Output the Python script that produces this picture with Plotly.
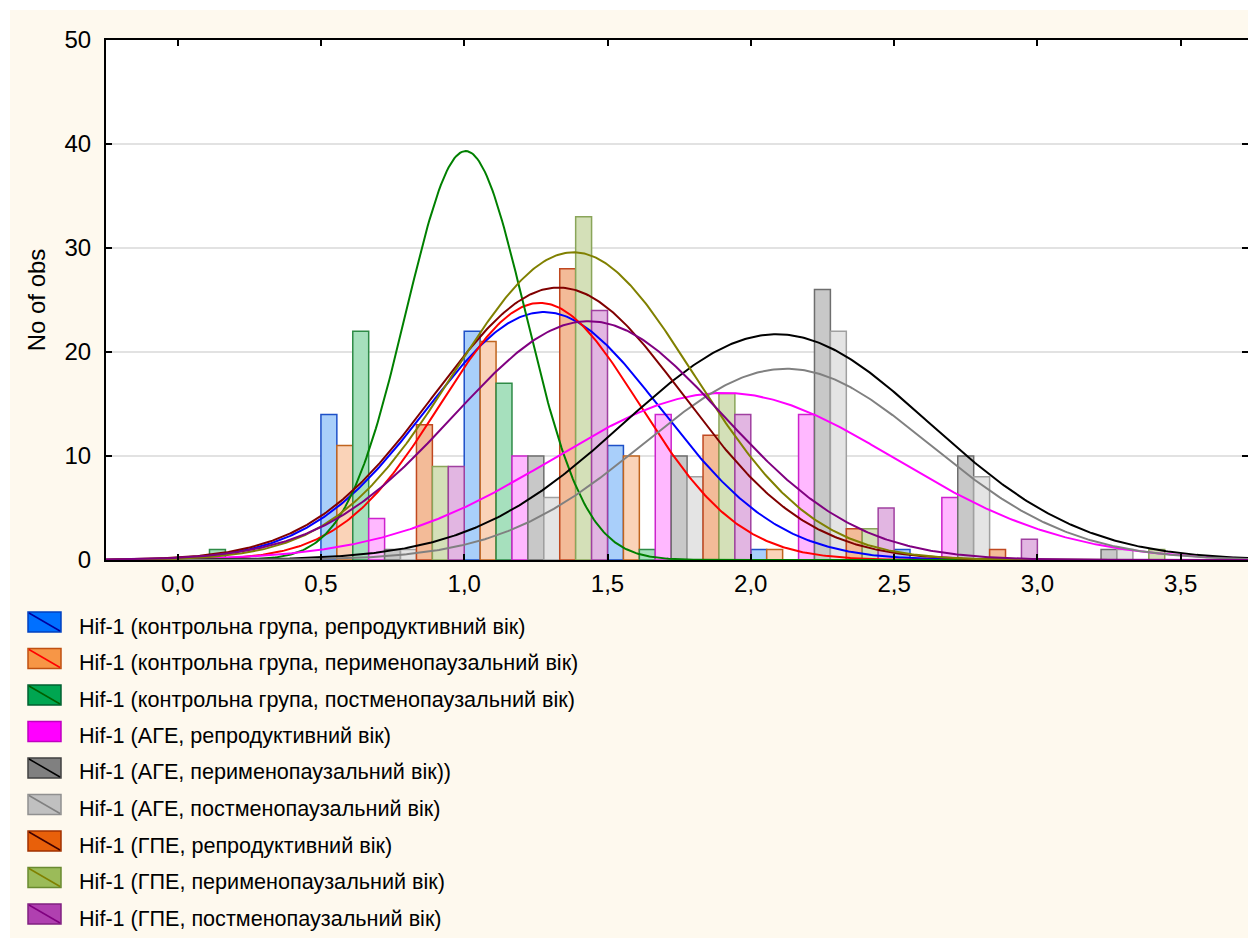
import numpy as np
import plotly.graph_objects as go

# Histogram bins (width 0.5), left edges
bin_starts = [0.0, 0.5, 1.0, 1.5, 2.0, 2.5, 3.0, 3.5]
bin_width = 0.5

series_names = [
    "Hif-1 (контрольна група, репродуктивний вік)",
    "Hif-1 (контрольна група, перименопаузальний вік)",
    "Hif-1 (контрольна група, постменопаузальний вік)",
    "Hif-1 (АГЕ, репродуктивний вік)",
    "Hif-1 (АГЕ, перименопаузальний вік))",
    "Hif-1 (АГЕ, постменопаузальний вік)",
    "Hif-1 (ГПЕ, репродуктивний вік)",
    "Hif-1 (ГПЕ, перименопаузальний вік)",
    "Hif-1 (ГПЕ, постменопаузальний вік)",
]

# Observation counts per bin for each group
counts_ctrl_repr = [0, 14, 22, 11, 1, 1, 0, 0]
counts_ctrl_peri = [0, 11, 21, 10, 1, 0, 0, 0]
counts_ctrl_post = [1, 22, 17, 1, 0, 0, 0, 0]
counts_age_repr = [0, 4, 10, 14, 14, 6, 0, 0]
counts_age_peri = [0, 1, 10, 10, 26, 10, 1, 0]
counts_age_post = [0, 1, 6, 8, 22, 8, 1, 0]
counts_gpe_repr = [0, 13, 28, 12, 3, 1, 0, 0]
counts_gpe_peri = [0, 9, 33, 16, 3, 0, 1, 0]
counts_gpe_post = [0, 9, 24, 14, 5, 2, 0, 0]

# Parameters of the fitted normal curves (mean, standard deviation)
fit_means = [1.278, 1.264, 1.005, 1.907, 2.090, 2.123, 1.329, 1.381, 1.434]
fit_sds = [0.410, 0.347, 0.208, 0.596, 0.533, 0.499, 0.434, 0.418, 0.469]

all_counts = [counts_ctrl_repr, counts_ctrl_peri, counts_ctrl_post,
              counts_age_repr, counts_age_peri, counts_age_post,
              counts_gpe_repr, counts_gpe_peri, counts_gpe_post]

# Styling
bar_fill = ["#A9CFFA", "#FAD3B8", "#A6E0BD", "#FFB8FF", "#C8C8C8",
            "#E4E4E4", "#F3BB98", "#D4E0B8", "#E2B6E2"]
bar_edge = ["#1E50C8", "#C0641E", "#2E8B47", "#CC22CC", "#6E6E6E",
            "#A0A0A0", "#C04820", "#8AA55A", "#A040A0"]
curve_color = ["#0000FF", "#FF0000", "#008000", "#FF00FF", "#000000",
               "#808080", "#800000", "#808000", "#800080"]
icon_fill = ["#0070FF", "#F79646", "#00A651", "#FF00FF", "#808080",
             "#C0C0C0", "#E8600A", "#9BBB59", "#B040B0"]
icon_edge = ["#0040C0", "#C05010", "#006030", "#C000C0", "#404040",
             "#909090", "#A03000", "#6A8A30", "#802080"]
icon_line = ["#0000A0", "#FF0000", "#006000", "#FF00FF", "#000000",
             "#808080", "#400000", "#808000", "#800080"]

W, H = 1248, 940
ML, MR, MT, MB = 106, 0, 40, 380
PW, PH = W - ML - MR, H - MT - MB
FONT = "Arial, Liberation Sans, sans-serif"
CREAM = "#FEF9EE"


def px_x(px):
    return (px - ML) / PW


def px_y(py):
    return (H - MB - py) / PH


fig = go.Figure()

n = len(all_counts)
slot = bin_width / n
centers = [s + bin_width / 2 for s in bin_starts]

for i, cnt in enumerate(all_counts):
    fig.add_trace(go.Bar(
        x=centers, y=cnt, name=series_names[i],
        width=slot, offset=-bin_width / 2 + i * slot,
        marker=dict(color=bar_fill[i], line=dict(color=bar_edge[i], width=1.5)),
        showlegend=False,
    ))

xs = np.linspace(-0.25, 3.75, 600)
for i, cnt in enumerate(all_counts):
    total = sum(cnt)
    m, s = fit_means[i], fit_sds[i]
    ys = total * bin_width / (s * np.sqrt(2 * np.pi)) * np.exp(-0.5 * ((xs - m) / s) ** 2)
    fig.add_trace(go.Scatter(
        x=xs, y=ys, mode="lines", name=series_names[i],
        line=dict(color=curve_color[i], width=2), showlegend=False,
    ))

shapes = []
# white border strips around the cream panel
shapes.append(dict(type="rect", xref="paper", yref="paper", layer="below",
                   x0=px_x(0), x1=px_x(10), y0=px_y(H), y1=px_y(0),
                   fillcolor="white", line=dict(width=0)))
shapes.append(dict(type="rect", xref="paper", yref="paper", layer="below",
                   x0=px_x(0), x1=px_x(W), y0=px_y(10), y1=px_y(0),
                   fillcolor="white", line=dict(width=0)))
shapes.append(dict(type="rect", xref="paper", yref="paper", layer="below",
                   x0=px_x(0), x1=px_x(W), y0=px_y(H), y1=px_y(938),
                   fillcolor="white", line=dict(width=0)))

annotations = []
row0, row_step = 622, 36.5
for i, name in enumerate(series_names):
    c = row0 + i * row_step
    shapes.append(dict(type="rect", xref="paper", yref="paper",
                       x0=px_x(28), x1=px_x(61), y0=px_y(c + 10), y1=px_y(c - 10),
                       fillcolor=icon_fill[i], line=dict(color=icon_edge[i], width=1.5)))
    shapes.append(dict(type="line", xref="paper", yref="paper",
                       x0=px_x(29), x1=px_x(60), y0=px_y(c - 9), y1=px_y(c + 9),
                       line=dict(color=icon_line[i], width=1.5)))
    annotations.append(dict(xref="paper", yref="paper", x=px_x(77), y=px_y(c + 4),
                            xanchor="left", yanchor="middle", showarrow=False,
                            text=name, font=dict(family=FONT, size=21.6, color="black")))

fig.update_layout(
    width=W, height=H,
    margin=dict(l=ML, r=MR, t=MT, b=MB, autoexpand=False),
    paper_bgcolor=CREAM, plot_bgcolor="white",
    barmode="overlay",
    separators=", ",
    font=dict(family=FONT, size=24, color="black"),
    showlegend=False,
    shapes=shapes, annotations=annotations,
    xaxis=dict(range=[-0.25, 3.735], tickvals=[0, 0.5, 1, 1.5, 2, 2.5, 3, 3.5],
               tickformat=".1f", ticks="inside", ticklen=6, tickwidth=1.5,
               tickcolor="black", showline=True, linecolor="black", linewidth=2,
               mirror="ticks", showgrid=False, zeroline=False,
               ticklabelstandoff=1, tickfont=dict(size=24)),
    yaxis=dict(range=[0, 50], tickvals=[0, 10, 20, 30, 40, 50],
               ticks="inside", ticklen=6, tickwidth=1.5, tickcolor="black",
               showline=True, linecolor="black", linewidth=2, mirror="ticks",
               showgrid=True, gridcolor="#E2E2E2", gridwidth=1.5, zeroline=False,
               ticklabelstandoff=8, tickfont=dict(size=24),
               title=dict(text="No of obs", standoff=12, font=dict(size=24))),
)

fig.write_html("out.html")
